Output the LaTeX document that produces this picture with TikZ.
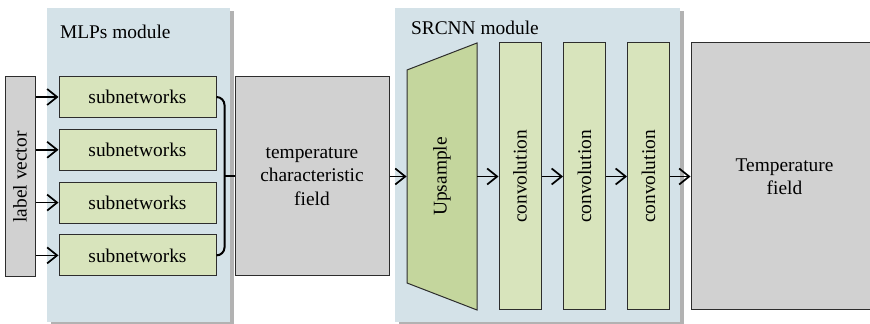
\documentclass[tikz,border=0pt]{standalone}
\usepackage{fontspec}
\setmainfont{Liberation Serif}
\usepackage{xcolor}
\usepackage{tikz}
\usetikzlibrary{arrows.meta, positioning, calc, shadows}
\definecolor{modbg}{RGB}{212,226,232}
\definecolor{subgreen}{RGB}{216,228,188}
\definecolor{upgreen}{RGB}{196,214,157}
\definecolor{fieldgray}{RGB}{209,209,209}
\definecolor{edge}{RGB}{45,45,45}

\begin{document}
\begin{tikzpicture}[x=0.5pt, y=-0.5pt,
    font=\fontsize{9.7}{11.7}\selectfont,
    box/.style={draw=edge, line width=0.5pt, inner sep=0pt, align=center},
    sub/.style={box, fill=subgreen, minimum width=78.5pt, minimum height=20.5pt},
    conv/.style={box, fill=subgreen, minimum width=21pt, minimum height=133.5pt},
    field/.style={box, fill=fieldgray},
    flow/.style={-{Straight Barb[length=5pt, width=8pt]}, line width=0.85pt},
    module/.style={fill=modbg, drop shadow={shadow xshift=1.8pt, shadow yshift=-1.5pt,
      opacity=0.3, fill=black}}]
  \useasboundingbox (0,0) rectangle (870,324);
  % module backgrounds
  \fill[module] (47,8) rectangle (230,322);
  \fill[module] (395,8) rectangle (680,322);
  \node[anchor=west] (mlptitle) at (53,32) {MLPs module};
  \node[anchor=west] (srtitle) at (404,28) {SRCNN module};
  % MLPs module
  \node[field, minimum width=15pt, minimum height=100pt] (lv) at (20,177)
    {\rotatebox{90}{label vector}};
  \foreach \i in {1,...,4}
    \node[sub] (sub\i) at (137.5,{97+52.8*(\i-1)}) {subnetworks};
  \foreach \i in {1,...,4}
    \draw[flow] (lv.east |- sub\i) -- (sub\i.west);
  \node[field, minimum width=77pt, minimum height=99.5pt] (tcf) at (312,176.5)
    {temperature\\characteristic\\field};
  % bracket
  \coordinate (brk) at ($(sub1.east)!.5!(sub4.east)+(8,0)$);
  \draw[line width=1pt, rounded corners=4pt] (sub1.east) -| (brk) |- (sub4.east);
  \draw[line width=1pt] (brk) -- (brk -| tcf.west);
  % SRCNN module
  \fill[upgreen, draw=edge, line width=0.5pt] (407,70) -- (477,43) -- (477,310)
    -- (407,283) -- cycle;
  \node[inner sep=0pt, minimum width=35pt, minimum height=133.5pt] (up) at (442,176.5)
    {\rotatebox{90}{Upsample}};
  \foreach \n/\x in {conv1/520, conv2/584.5, conv3/648.5}
    \node[conv] (\n) at (\x,176.5) {\rotatebox{90}{convolution}};
  \node[field, minimum width=93.5pt, minimum height=133.5pt] (tf) at (784.5,176.5)
    {Temperature\\field};
  % flow
  \foreach \a/\b in {tcf/up, up/conv1, conv1/conv2, conv2/conv3, conv3/tf}
    \draw[flow] (\a.east) -- (\b.west);
\end{tikzpicture}
\end{document}
